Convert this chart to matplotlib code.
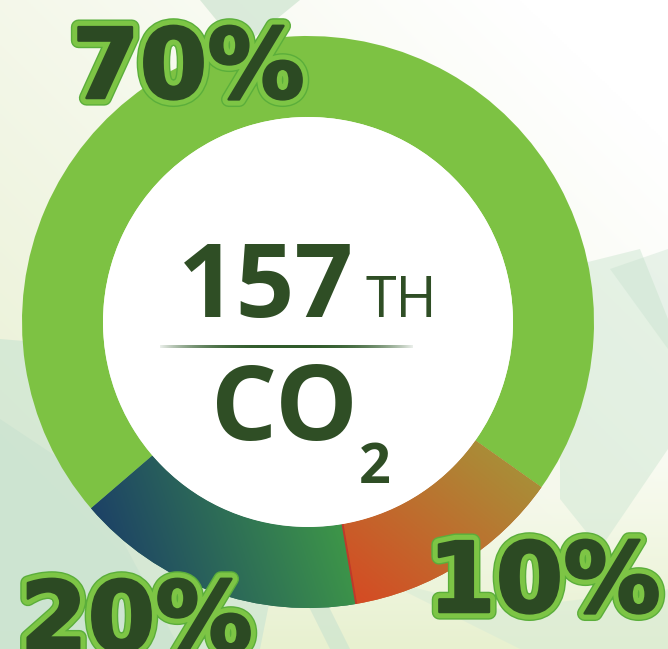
import numpy as np
import matplotlib
matplotlib.use("Agg")
import matplotlib.pyplot as plt
import matplotlib.patheffects as pe
from matplotlib.patches import Circle, Polygon
from matplotlib.colors import to_rgb

# ring data (shares of the circle as drawn in the picture) and labels
segments = ["main", "twenty", "ten"]
arc_shares = [71.1, 16.4, 12.5]
pct_labels = ["70%", "20%", "10%"]
center_number = "157"
center_suffix = "TH"
center_gas = "CO"
center_sub = "2"

W, H = 668, 649
ring_green = "#7DC243"
text_dark = "#2C4A23"

fig = plt.figure(figsize=(W / 100, H / 100), dpi=100)
ax = fig.add_axes([0, 0, 1, 1])


def lin_grad(x0, y0, x1, y1, c0, c1, extent, n=300):
    # rgb image with a linear gradient from point 0 to point 1
    xs = np.linspace(extent[0], extent[1], n)
    ys = np.linspace(extent[2], extent[3], n)
    X, Y = np.meshgrid(xs, ys)
    dx, dy = x1 - x0, y1 - y0
    t = ((X - x0) * dx + (Y - y0) * dy) / (dx * dx + dy * dy)
    t = np.clip(t, 0, 1)[..., None]
    return (1 - t) * np.array(to_rgb(c0)) + t * np.array(to_rgb(c1))


# background: pale cream-green fading to white at upper right
bg = lin_grad(0, 120, 520, 649, "#E9F0D4", "#FFFFFF", (0, W, 0, H))
bottom = lin_grad(0, 0, 0, 260, "#E8F1D0", "#FFFFFF", (0, W, 0, H))
bg = np.minimum(bg, bottom)
ax.imshow(bg, extent=(0, W, 0, H), origin="lower", zorder=0)

# soft leaf shapes
leaves = [
    ([(0, 310), (120, 300), (300, 200), (260, 0), (0, 0)], "#CFE6D3", 0.75),
    ([(0, 230), (90, 170), (180, 0), (0, 0)], "#C5E0CF", 0.45),
    ([(560, 380), (640, 400), (668, 330), (668, 200), (600, 100), (560, 150)], "#D2E8D5", 0.55),
    ([(610, 380), (668, 400), (668, 300)], "#C3DFCB", 0.35),
    ([(200, 649), (240, 600), (300, 649)], "#D3E7D4", 0.8),
    ([(300, 60), (330, 0), (350, 0), (320, 60)], "#C9E2CF", 0.6),
    ([(380, 70), (520, 0), (668, 0), (668, 60), (500, 40)], "#D6EAD6", 0.5),
]
for pts, col, a in leaves:
    ax.add_patch(Polygon(pts, closed=True, fc=col, ec="none", alpha=a, zorder=1))

# ring
cx, cy = 308, 327
R_out, R_in = 286, 205
start = 324.7
wedges, _ = ax.pie(arc_shares, colors=[ring_green, "#2A6A58", "#C0652E"],
                   startangle=start, counterclock=True, radius=R_out,
                   center=(cx, cy), wedgeprops=dict(width=R_out - R_in, linewidth=0))
for w in wedges:
    w.set_zorder(2)

box = (cx - R_out, cx + R_out, cy - R_out, cy + R_out)
blue_img = lin_grad(110, 89, 355, 170, "#1D4266", "#41A045", box)
im = ax.imshow(blue_img, extent=box, origin="lower", zorder=3)
im.set_clip_path(wedges[1])
orange_img = lin_grad(490, 209, 360, 49, "#A88F38", "#D44C24", box)
im = ax.imshow(orange_img, extent=box, origin="lower", zorder=3)
im.set_clip_path(wedges[2])

# darker edge where the 20% and 10% parts meet
ang = np.deg2rad(start + 360 * (arc_shares[0] + arc_shares[1]) / 100)
ax.plot([cx + R_in * np.cos(ang), cx + R_out * np.cos(ang)],
        [cy + R_in * np.sin(ang), cy + R_out * np.sin(ang)],
        color="#C0392A", lw=1.4, zorder=4, solid_capstyle="butt")

ax.add_patch(Circle((cx, cy), R_in, fc="white", ec="none", zorder=5))

# center text
ax.text(178, 332, center_number, fontsize=74, fontweight="bold", family="Open Sans",
        color="#2F4E25", ha="left", va="baseline", zorder=6)
ax.text(366, 332, center_suffix, fontsize=40, family="Open Sans",
        color="#2F4E25", ha="left", va="baseline", zorder=6)
ax.text(211, 209, center_gas, fontsize=75, fontweight="bold", family="Open Sans",
        color="#2F4E25", ha="left", va="baseline", zorder=6)
ax.text(359, 166, center_sub, fontsize=40, fontweight="bold", family="Open Sans",
        color="#2F4E25", ha="left", va="baseline", zorder=6)

# divider line fading at both ends
lx = np.linspace(-1, 1, 400)
fade = 1 - np.abs(lx) ** 3
strip = np.zeros((1, lx.size, 4))
strip[0, :, :3] = to_rgb("#2F5A2A")
strip[0, :, 3] = 0.1 + 0.9 * fade
ax.imshow(strip, extent=(160, 413, 300.8, 303.6), origin="lower",
          aspect="auto", interpolation="bilinear", zorder=6)

# percentage labels with a light green outline
outline = [pe.Stroke(linewidth=11, foreground="#5BAE3B"),
           pe.Stroke(linewidth=9, foreground="#7DC545"),
           pe.Stroke(linewidth=1.8, foreground=text_dark), pe.Normal()]
label_pos = [(72, 551), (20, -2), (428, 37)]
for lab, (x, y) in zip(pct_labels, label_pos):
    t = ax.text(x, y, lab, fontsize=70, fontweight="bold", family="DejaVu Sans",
                color=text_dark, ha="left", va="baseline", zorder=7)
    t.set_path_effects(outline)

ax.set_xlim(0, W)
ax.set_ylim(0, H)
ax.set_aspect("auto")
ax.axis("off")
fig.savefig("out.png", dpi=100)
